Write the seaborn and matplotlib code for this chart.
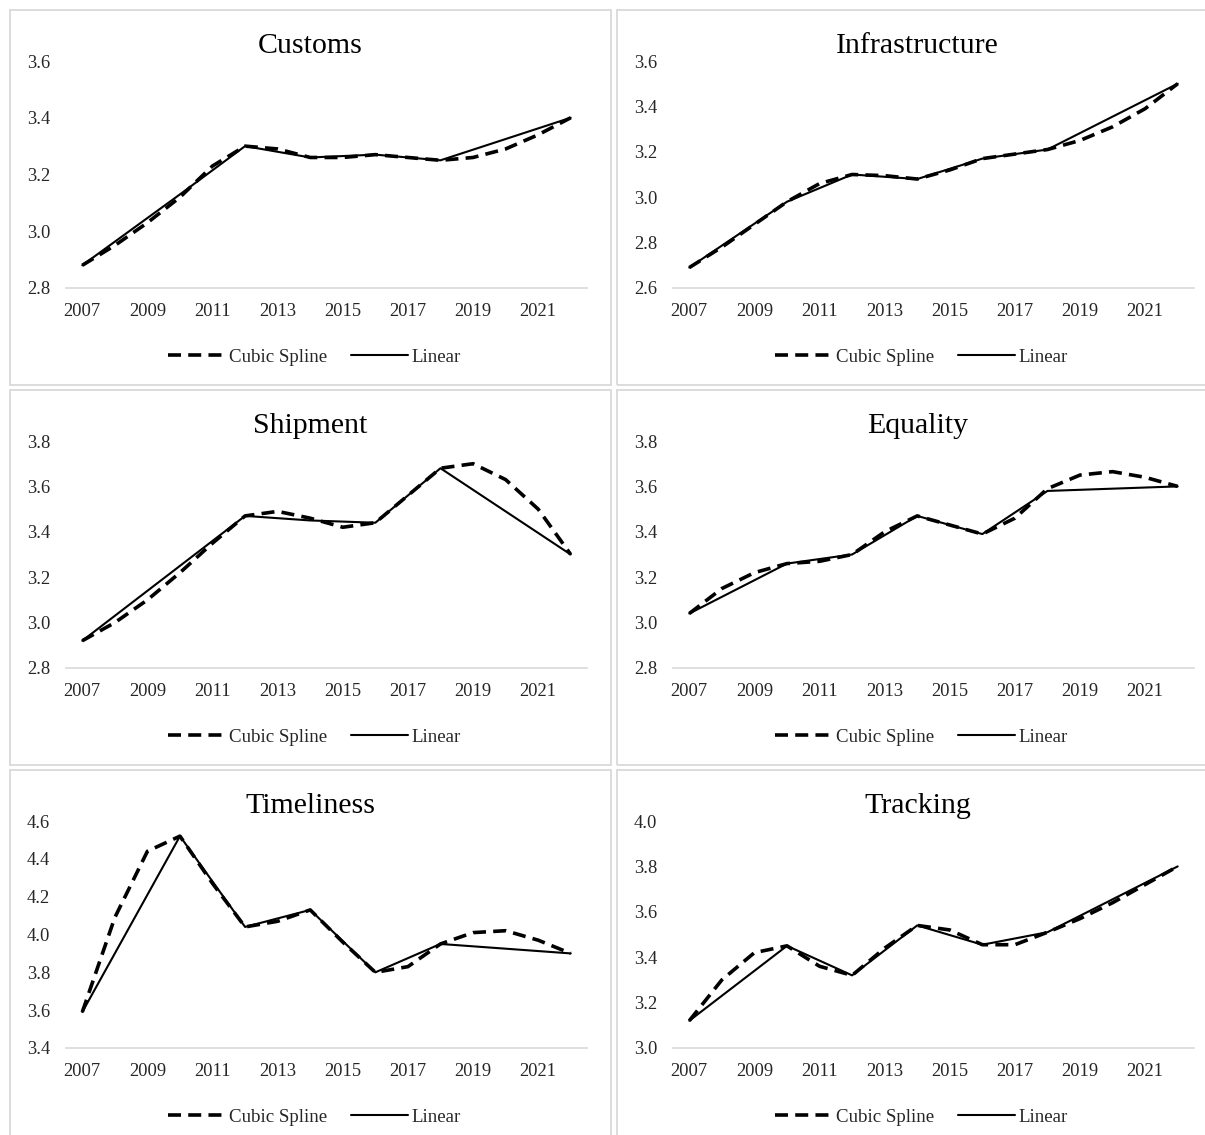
import numpy as np
import pandas as pd
import matplotlib
matplotlib.use("Agg")
import matplotlib.pyplot as plt
import matplotlib.patches as mpatches
import seaborn as sns

# yearly cubic spline values, 2007-2022
spline_years = list(range(2007, 2023))
# survey years used by the linear series
linear_years = [2007, 2010, 2012, 2014, 2016, 2018, 2022]

titles = ["Customs", "Infrastructure", "Shipment", "Equality", "Timeliness", "Tracking"]

customs_spline = [2.88, 2.95, 3.03, 3.12, 3.23, 3.30, 3.29, 3.26, 3.26, 3.27, 3.26, 3.25, 3.26, 3.29, 3.34, 3.40]
customs_linear = [2.88, 3.13, 3.30, 3.26, 3.27, 3.25, 3.40]

infra_spline = [2.69, 2.78, 2.88, 2.98, 3.06, 3.10, 3.095, 3.08, 3.12, 3.17, 3.19, 3.21, 3.25, 3.31, 3.39, 3.50]
infra_linear = [2.69, 2.98, 3.10, 3.08, 3.17, 3.21, 3.50]

shipment_spline = [2.92, 3.00, 3.10, 3.22, 3.35, 3.47, 3.49, 3.46, 3.42, 3.44, 3.56, 3.68, 3.70, 3.63, 3.50, 3.30]
shipment_linear = [2.92, 3.25, 3.47, 3.45, 3.44, 3.68, 3.30]

equality_spline = [3.04, 3.15, 3.22, 3.26, 3.27, 3.30, 3.40, 3.47, 3.43, 3.39, 3.46, 3.59, 3.65, 3.665, 3.64, 3.60]
equality_linear = [3.04, 3.26, 3.30, 3.47, 3.39, 3.58, 3.60]

timeliness_spline = [3.59, 4.09, 4.44, 4.52, 4.27, 4.04, 4.07, 4.13, 3.96, 3.80, 3.83, 3.95, 4.01, 4.02, 3.97, 3.90]
timeliness_linear = [3.59, 4.52, 4.04, 4.13, 3.80, 3.95, 3.90]

tracking_spline = [3.12, 3.30, 3.42, 3.45, 3.36, 3.32, 3.44, 3.54, 3.52, 3.455, 3.455, 3.51, 3.57, 3.64, 3.72, 3.80]
tracking_linear = [3.12, 3.45, 3.32, 3.54, 3.455, 3.51, 3.80]

splines = [customs_spline, infra_spline, shipment_spline, equality_spline, timeliness_spline, tracking_spline]
linears = [customs_linear, infra_linear, shipment_linear, equality_linear, timeliness_linear, tracking_linear]
y_limits = [(2.8, 3.6), (2.6, 3.6), (2.8, 3.8), (2.8, 3.8), (3.4, 4.6), (3.0, 4.0)]

sns.set_style("white")
plt.rcParams["font.family"] = ["Liberation Serif", "DejaVu Serif"]

W, H = 1205, 1135
fig = plt.figure(figsize=(W / 100, H / 100), dpi=100)

panel_w, panel_h = 601, 375
col_x = [10, 617]
row_y = [10, 390, 770]

for i, title in enumerate(titles):
    px = col_x[i % 2]
    py = row_y[i // 2]

    # light grey chart border like Excel
    fig.add_artist(mpatches.Rectangle((px / W, 1 - (py + panel_h) / H), panel_w / W, panel_h / H,
                                      transform=fig.transFigure, fill=False,
                                      edgecolor="#d9d9d9", linewidth=1.3))

    ax_l, ax_r = px + 56, px + 577
    ax_t, ax_b = py + 51, py + 278
    ax = fig.add_axes([ax_l / W, 1 - ax_b / H, (ax_r - ax_l) / W, (ax_b - ax_t) / H])

    df_s = pd.DataFrame({"year": spline_years, "value": splines[i]})
    df_l = pd.DataFrame({"year": linear_years, "value": linears[i]})
    sns.lineplot(data=df_s, x="year", y="value", ax=ax, color="black", linewidth=2.6,
                 linestyle=(0, (3.6, 2.0)), label="Cubic Spline")
    sns.lineplot(data=df_l, x="year", y="value", ax=ax, color="black", linewidth=1.5,
                 label="Linear")

    lo, hi = y_limits[i]
    ax.set_ylim(lo, hi)
    ax.set_yticks(np.arange(lo, hi + 0.01, 0.2))
    ax.set_yticklabels([f"{v:.1f}" for v in np.arange(lo, hi + 0.01, 0.2)])
    ax.set_xlim(2006.5, 2022.5)
    ax.set_xticks(range(2007, 2022, 2))
    ax.set_xlabel("")
    ax.set_ylabel("")
    ax.tick_params(axis="both", length=0, labelsize=13.3, colors="#262626")
    ax.tick_params(axis="y", pad=11.5)
    ax.tick_params(axis="x", pad=11)
    for side in ["top", "right", "left"]:
        ax.spines[side].set_visible(False)
    ax.spines["bottom"].set_color("#d9d9d9")
    ax.spines["bottom"].set_linewidth(1.2)
    ax.set_facecolor("none")

    cx = (px + panel_w / 2) / W
    fig.text(cx, 1 - (py + 36) / H, title, ha="center", va="center", fontsize=21.5, color="black")

    leg = ax.legend(loc="center", bbox_to_anchor=(cx + 4 / W, 1 - (py + 347) / H), bbox_transform=fig.transFigure,
                    ncol=2, frameon=False, fontsize=13.6, handlelength=3.0, handletextpad=0.2,
                    columnspacing=1.3)
    for t in leg.get_texts():
        t.set_color("#262626")

fig.savefig("out.png", dpi=100, facecolor="white")
